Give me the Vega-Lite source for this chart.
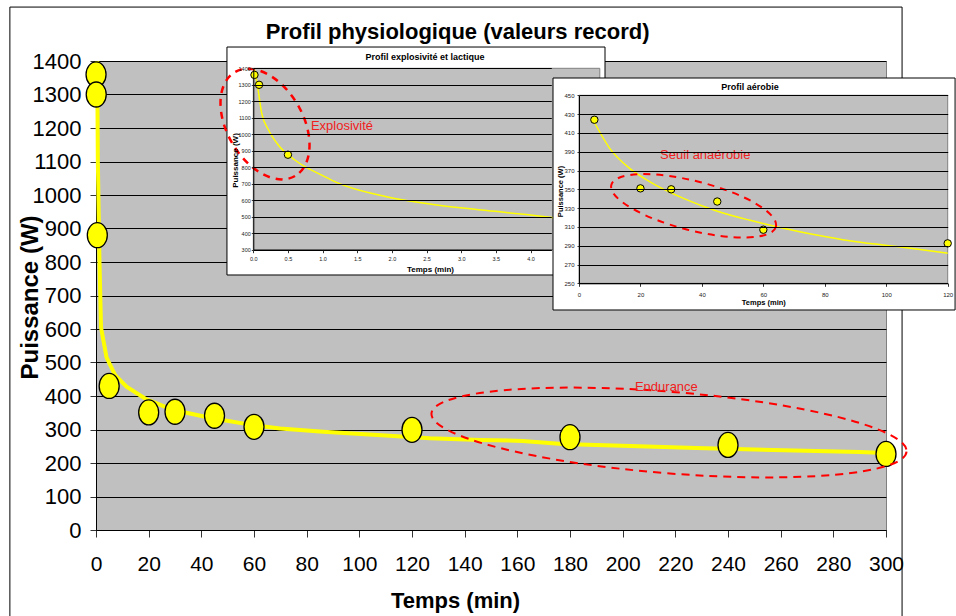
{
  "$schema": "https://vega.github.io/schema/vega-lite/v6.json",
  "width": 790,
  "height": 469,
  "autosize": {"type": "none"},
  "padding": {"left": 96, "top": 61, "right": 70, "bottom": 86},
  "background": "white",
  "config": {
    "view": {"fill": "#C0C0C0", "stroke": "#808080", "strokeWidth": 1},
    "axis": {"domainColor": "#000", "tickColor": "#333", "labelColor": "#000", "titleColor": "#000", "labelFlush": false, "labelOverlap": false, "gridColor": "#000", "gridOpacity": 1, "gridWidth": 1}
  },
  "layer": [
    {
      "data": {"values": [{}]},
      "mark": {"type": "rect", "fill": "white", "fillOpacity": 0, "stroke": "#000", "strokeWidth": 1},
      "encoding": {
        "x": {"datum": -32.7, "type": "quantitative", "scale": {"domain": [0, 300], "nice": false, "zero": false}, "axis": null},
        "x2": {"datum": 306.1},
        "y": {"datum": 1561, "type": "quantitative", "scale": {"domain": [0, 1400], "nice": false, "zero": false}, "axis": null},
        "y2": {"datum": -280}
      }
    },
    {
      "data": {"values": [{"label": "Profil physiologique (valeurs record)"}]},
      "mark": {"type": "text", "font": "Liberation Sans", "fontSize": 22, "fontWeight": "bold", "color": "#000", "align": "center", "baseline": "alphabetic"},
      "encoding": {
        "x": {"datum": 137.3, "type": "quantitative", "scale": {"domain": [0, 300], "nice": false, "zero": false}, "axis": null},
        "y": {"datum": 1467, "type": "quantitative", "scale": {"domain": [0, 1400], "nice": false, "zero": false}, "axis": null},
        "text": {"field": "label"}
      }
    },
    {
      "data": {"values": [
        {"t": 0.45, "p": 1400}, {"t": 0.7, "p": 1100}, {"t": 1.27, "p": 820}, {"t": 1.9, "p": 605}, {"t": 2.6, "p": 575}, {"t": 4.0, "p": 515}, {"t": 7.2, "p": 463}, {"t": 11.6, "p": 428}, {"t": 19.2, "p": 390}, {"t": 29.4, "p": 358}, {"t": 44.6, "p": 333}, {"t": 59.7, "p": 313}, {"t": 69.9, "p": 303}, {"t": 86.3, "p": 293}, {"t": 105.3, "p": 284}, {"t": 126.8, "p": 274}, {"t": 145.8, "p": 269}, {"t": 162, "p": 266}, {"t": 177, "p": 257}, {"t": 203, "p": 251}, {"t": 228, "p": 245}, {"t": 257, "p": 239}, {"t": 290, "p": 233}, {"t": 300, "p": 230}
      ]},
      "mark": {"type": "line", "color": "#FFFF00", "strokeWidth": 4},
      "encoding": {
        "x": {"field": "t", "type": "quantitative", "scale": {"domain": [0, 300], "nice": false, "zero": false},
          "axis": {"orient": "bottom", "title": "Temps (min)", "values": [0, 20, 40, 60, 80, 100, 120, 140, 160, 180, 200, 220, 240, 260, 280, 300], "format": "d", "grid": false, "tickSize": 7, "labelFont": "Liberation Sans Narrow, Liberation Sans", "labelFontSize": 21, "labelPadding": 16, "titleFont": "Liberation Sans Narrow, Liberation Sans", "titleFontSize": 22, "titleFontWeight": "bold", "titleX": 359, "titleY": 70, "titleBaseline": "middle", "zindex": 0}},
        "y": {"field": "p", "type": "quantitative", "scale": {"domain": [0, 1400], "nice": false, "zero": false},
          "axis": {"orient": "left", "title": "Puissance (W)", "values": [0, 100, 200, 300, 400, 500, 600, 700, 800, 900, 1000, 1100, 1200, 1300, 1400], "format": "d", "grid": true, "tickSize": 6, "labelFont": "Liberation Sans Narrow, Liberation Sans", "labelFontSize": 22, "labelPadding": 9, "titleFont": "Liberation Sans", "titleFontSize": 24, "titleFontWeight": "bold", "titleX": -66, "titleY": 236, "titleBaseline": "middle", "zindex": 0}}
      }
    },
    {
      "data": {"values": [
        {"t": 0.017, "p": 1360}, {"t": 0.083, "p": 1300}, {"t": 0.5, "p": 880}, {"t": 5, "p": 430}, {"t": 20, "p": 351}, {"t": 30, "p": 353}, {"t": 45, "p": 341}, {"t": 60, "p": 308}, {"t": 120, "p": 299}, {"t": 180, "p": 277}, {"t": 240, "p": 254}, {"t": 300, "p": 227}
      ]},
      "mark": {"type": "point", "shape": "M 0.8 0 C 0.8 0.5523 0.4418 1 0 1 C -0.4418 1 -0.8 0.5523 -0.8 0 C -0.8 -0.5523 -0.4418 -1 0 -1 C 0.4418 -1 0.8 -0.5523 0.8 0 Z", "size": 625, "filled": true, "fill": "#FFFF00", "stroke": "#000", "strokeWidth": 1.3, "opacity": 1},
      "encoding": {
        "x": {"field": "t", "type": "quantitative", "scale": {"domain": [0, 300], "nice": false, "zero": false}, "axis": null},
        "y": {"field": "p", "type": "quantitative", "scale": {"domain": [0, 1400], "nice": false, "zero": false}, "axis": null}
      }
    },
    {
      "data": {"values": [{}]},
      "mark": {"type": "point", "shape": "M 1 0 C 1 0.0944 0.5523 0.171 0 0.171 C -0.5523 0.171 -1 0.0944 -1 0 C -1 -0.0944 -0.5523 -0.171 0 -0.171 C 0.5523 -0.171 1 -0.0944 1 0 Z", "size": 227148, "angle": 4.6, "filled": false, "stroke": "#FF0000", "strokeWidth": 2, "strokeDash": [8, 6], "opacity": 1},
      "encoding": {
        "x": {"datum": 217.6, "type": "quantitative", "scale": {"domain": [0, 300], "nice": false, "zero": false}, "axis": null},
        "y": {"datum": 291, "type": "quantitative", "scale": {"domain": [0, 1400], "nice": false, "zero": false}, "axis": null}
      }
    },
    {
      "data": {"values": [{"label": "Endurance"}]},
      "mark": {"type": "text", "font": "Liberation Sans", "fontSize": 13, "color": "#F02020", "align": "center", "baseline": "middle"},
      "encoding": {
        "x": {"datum": 216.6, "type": "quantitative", "scale": {"domain": [0, 300], "nice": false, "zero": false}, "axis": null},
        "y": {"datum": 426, "type": "quantitative", "scale": {"domain": [0, 1400], "nice": false, "zero": false}, "axis": null},
        "text": {"field": "label"}
      }
    },
    {
      "data": {"values": [{}]},
      "mark": {"type": "rect", "fill": "white", "stroke": "#000", "strokeWidth": 1},
      "encoding": {
        "x": {"datum": -0.38, "type": "quantitative", "scale": {"domain": [0, 4.3], "range": [157.3, 455.3], "nice": false, "zero": false}, "axis": null},
        "x2": {"datum": 5.075},
        "y": {"datum": 1529, "type": "quantitative", "scale": {"domain": [300, 1400], "range": [188.7, 7.3], "nice": false, "zero": false}, "axis": null},
        "y2": {"datum": 146.6}
      }
    },
    {
      "data": {"values": [{}]},
      "mark": {"type": "rect", "fill": "#C0C0C0", "stroke": "#808080", "strokeWidth": 1},
      "encoding": {
        "x": {"datum": 0, "type": "quantitative", "scale": {"domain": [0, 4.3], "range": [157.3, 455.3], "nice": false, "zero": false}, "axis": null},
        "x2": {"datum": 5},
        "y": {"datum": 300, "type": "quantitative", "scale": {"domain": [300, 1400], "range": [188.7, 7.3], "nice": false, "zero": false}, "axis": null},
        "y2": {"datum": 1400}
      }
    },
    {
      "data": {"values": [
        {"t": 0.02, "p": 1390}, {"t": 0.07, "p": 1268}, {"t": 0.12, "p": 1130}, {"t": 0.22, "p": 1026}, {"t": 0.36, "p": 935}, {"t": 0.6, "p": 844}, {"t": 1.03, "p": 743}, {"t": 1.2, "p": 708}, {"t": 1.92, "p": 621}, {"t": 2.65, "p": 571}, {"t": 3.37, "p": 537}, {"t": 4.0, "p": 510}, {"t": 4.4, "p": 490}
      ]},
      "mark": {"type": "line", "color": "#FFFF00", "strokeWidth": 1.5, "interpolate": "monotone"},
      "encoding": {
        "x": {"field": "t", "type": "quantitative", "scale": {"domain": [0, 4.3], "range": [157.3, 455.3], "nice": false, "zero": false},
          "axis": {"orient": "bottom", "offset": -280.3, "title": "Temps (min)", "values": [0, 0.5, 1, 1.5, 2, 2.5, 3, 3.5, 4], "format": ".1f", "grid": false, "tickSize": 3, "labelFont": "Liberation Sans", "labelFontSize": 5.5, "labelColor": "#222", "labelPadding": 4, "titleFont": "Liberation Sans", "titleFontSize": 8, "titleFontWeight": "bold", "titleX": 334, "titleY": 19.6, "titleBaseline": "middle", "zindex": 1}},
        "y": {"field": "p", "type": "quantitative", "scale": {"domain": [300, 1400], "range": [188.7, 7.3], "nice": false, "zero": false},
          "axis": {"orient": "left", "offset": -157.3, "title": "Puissance (W)", "values": [300, 400, 500, 600, 700, 800, 900, 1000, 1100, 1200, 1300, 1400], "format": "d", "grid": true, "tickSize": 2, "labelFont": "Liberation Sans", "labelFontSize": 5.5, "labelColor": "#222", "labelPadding": 1, "titleFont": "Liberation Sans", "titleFontSize": 8, "titleFontWeight": "bold", "titleX": -18.3, "titleY": 99, "titleBaseline": "middle", "zindex": 1}}
      }
    },
    {
      "data": {"values": [{"t": 0.017, "p": 1360}, {"t": 0.083, "p": 1300}, {"t": 0.5, "p": 876}]},
      "mark": {"type": "point", "shape": "circle", "size": 55, "filled": true, "fill": "#FFFF00", "stroke": "#000", "strokeWidth": 1, "opacity": 1},
      "encoding": {
        "x": {"field": "t", "type": "quantitative", "scale": {"domain": [0, 4.3], "range": [157.3, 455.3], "nice": false, "zero": false}, "axis": null},
        "y": {"field": "p", "type": "quantitative", "scale": {"domain": [300, 1400], "range": [188.7, 7.3], "nice": false, "zero": false}, "axis": null},
        "order": {"value": 2}
      }
    },
    {
      "data": {"values": [{}]},
      "mark": {"type": "point", "shape": "M 1 0 C 1 0.3496 0.5523 0.633 0 0.633 C -0.5523 0.633 -1 0.3496 -1 0 C -1 -0.3496 -0.5523 -0.633 0 -0.633 C 0.5523 -0.633 1 -0.3496 1 0 Z", "size": 14400, "angle": 60, "filled": false, "stroke": "#FF0000", "strokeWidth": 2.5, "strokeDash": [7, 6], "opacity": 1},
      "encoding": {
        "x": {"datum": 0.169, "type": "quantitative", "scale": {"domain": [0, 4.3], "range": [157.3, 455.3], "nice": false, "zero": false}, "axis": null},
        "y": {"datum": 1062, "type": "quantitative", "scale": {"domain": [300, 1400], "range": [188.7, 7.3], "nice": false, "zero": false}, "axis": null},
        "order": {"value": 2}
      }
    },
    {
      "data": {"values": [{"label": "Explosivité"}]},
      "mark": {"type": "text", "font": "Liberation Sans", "fontSize": 13, "color": "#F02020", "align": "center", "baseline": "middle"},
      "encoding": {
        "x": {"datum": 1.28, "type": "quantitative", "scale": {"domain": [0, 4.3], "range": [157.3, 455.3], "nice": false, "zero": false}, "axis": null},
        "y": {"datum": 1050, "type": "quantitative", "scale": {"domain": [300, 1400], "range": [188.7, 7.3], "nice": false, "zero": false}, "axis": null},
        "text": {"field": "label"},
        "order": {"value": 2}
      }
    },
    {
      "data": {"values": [{"label": "Profil explosivité et lactique"}]},
      "mark": {"type": "text", "font": "Liberation Sans", "fontSize": 9, "fontWeight": "bold", "color": "#000", "align": "center", "baseline": "middle"},
      "encoding": {
        "x": {"datum": 2.478, "type": "quantitative", "scale": {"domain": [0, 4.3], "range": [157.3, 455.3], "nice": false, "zero": false}, "axis": null},
        "y": {"datum": 1468.6, "type": "quantitative", "scale": {"domain": [300, 1400], "range": [188.7, 7.3], "nice": false, "zero": false}, "axis": null},
        "text": {"field": "label"},
        "order": {"value": 2}
      }
    },
    {
      "data": {"values": [{}]},
      "mark": {"type": "rect", "fill": "white", "stroke": "#000", "strokeWidth": 1},
      "encoding": {
        "x": {"datum": -8.46, "type": "quantitative", "scale": {"domain": [0, 120], "range": [483, 851.7], "nice": false, "zero": false}, "axis": null},
        "x2": {"datum": 122.4},
        "y": {"datum": 468.4, "type": "quantitative", "scale": {"domain": [250, 450], "range": [222.3, 34.3], "nice": false, "zero": false}, "axis": null},
        "y2": {"datum": 221.6}
      }
    },
    {
      "data": {"values": [{}]},
      "mark": {"type": "rect", "fill": "#C0C0C0", "stroke": "#808080", "strokeWidth": 1},
      "encoding": {
        "x": {"datum": 0, "type": "quantitative", "scale": {"domain": [0, 120], "range": [483, 851.7], "nice": false, "zero": false}, "axis": null},
        "x2": {"datum": 120},
        "y": {"datum": 250, "type": "quantitative", "scale": {"domain": [250, 450], "range": [222.3, 34.3], "nice": false, "zero": false}, "axis": null},
        "y2": {"datum": 450}
      }
    },
    {
      "data": {"values": [
        {"t": 5.2, "p": 420}, {"t": 10, "p": 393.6}, {"t": 16.6, "p": 372}, {"t": 23.1, "p": 358}, {"t": 34, "p": 340.4}, {"t": 44.8, "p": 327}, {"t": 55.7, "p": 317}, {"t": 66.5, "p": 308.5}, {"t": 77.3, "p": 301.4}, {"t": 88.1, "p": 295.3}, {"t": 99, "p": 290.7}, {"t": 109.8, "p": 286.5}, {"t": 120, "p": 282}
      ]},
      "mark": {"type": "line", "color": "#FFFF00", "strokeWidth": 1.5, "interpolate": "monotone"},
      "encoding": {
        "x": {"field": "t", "type": "quantitative", "scale": {"domain": [0, 120], "range": [483, 851.7], "nice": false, "zero": false},
          "axis": {"orient": "bottom", "offset": -246.7, "title": "Temps (min)", "values": [0, 20, 40, 60, 80, 100, 120], "format": "d", "grid": false, "tickSize": 3, "labelFont": "Liberation Sans", "labelFontSize": 6, "labelColor": "#222", "labelPadding": 5, "titleFont": "Liberation Sans", "titleFontSize": 7.5, "titleFontWeight": "bold", "titleX": 667.3, "titleY": 19.4, "titleBaseline": "middle", "zindex": 1}},
        "y": {"field": "p", "type": "quantitative", "scale": {"domain": [250, 450], "range": [222.3, 34.3], "nice": false, "zero": false},
          "axis": {"orient": "left", "offset": -483, "title": "Puissance (W)", "values": [250, 270, 290, 310, 330, 350, 370, 390, 410, 430, 450], "format": "d", "grid": true, "tickSize": 2, "labelFont": "Liberation Sans", "labelFontSize": 6, "labelColor": "#222", "labelPadding": 3, "titleFont": "Liberation Sans", "titleFontSize": 7.5, "titleFontWeight": "bold", "titleX": -19, "titleY": 130, "titleBaseline": "middle", "zindex": 1}}
      }
    },
    {
      "data": {"values": [{"t": 5, "p": 424}, {"t": 20, "p": 351}, {"t": 30, "p": 350}, {"t": 45, "p": 337}, {"t": 60, "p": 307}, {"t": 120, "p": 292.5}]},
      "mark": {"type": "point", "shape": "circle", "size": 55, "filled": true, "fill": "#FFFF00", "stroke": "#000", "strokeWidth": 1, "opacity": 1},
      "encoding": {
        "x": {"field": "t", "type": "quantitative", "scale": {"domain": [0, 120], "range": [483, 851.7], "nice": false, "zero": false}, "axis": null},
        "y": {"field": "p", "type": "quantitative", "scale": {"domain": [250, 450], "range": [222.3, 34.3], "nice": false, "zero": false}, "axis": null},
        "order": {"value": 2}
      }
    },
    {
      "data": {"values": [{}]},
      "mark": {"type": "point", "shape": "M 1 0 C 1 0.1602 0.5523 0.29 0 0.29 C -0.5523 0.29 -1 0.1602 -1 0 C -1 -0.1602 -0.5523 -0.29 0 -0.29 C 0.5523 -0.29 1 -0.1602 1 0 Z", "size": 28832, "angle": 14.25, "filled": false, "stroke": "#FF0000", "strokeWidth": 2, "strokeDash": [7, 6], "opacity": 1},
      "encoding": {
        "x": {"datum": 37.3, "type": "quantitative", "scale": {"domain": [0, 120], "range": [483, 851.7], "nice": false, "zero": false}, "axis": null},
        "y": {"datum": 332.4, "type": "quantitative", "scale": {"domain": [250, 450], "range": [222.3, 34.3], "nice": false, "zero": false}, "axis": null},
        "order": {"value": 2}
      }
    },
    {
      "data": {"values": [{"label": "Seuil anaérobie"}]},
      "mark": {"type": "text", "font": "Liberation Sans", "fontSize": 13, "color": "#F02020", "align": "center", "baseline": "middle"},
      "encoding": {
        "x": {"datum": 41.1, "type": "quantitative", "scale": {"domain": [0, 120], "range": [483, 851.7], "nice": false, "zero": false}, "axis": null},
        "y": {"datum": 386.5, "type": "quantitative", "scale": {"domain": [250, 450], "range": [222.3, 34.3], "nice": false, "zero": false}, "axis": null},
        "text": {"field": "label"},
        "order": {"value": 2}
      }
    },
    {
      "data": {"values": [{"label": "Profil aérobie"}]},
      "mark": {"type": "text", "font": "Liberation Sans", "fontSize": 9, "fontWeight": "bold", "color": "#000", "align": "center", "baseline": "middle"},
      "encoding": {
        "x": {"datum": 55.65, "type": "quantitative", "scale": {"domain": [0, 120], "range": [483, 851.7], "nice": false, "zero": false}, "axis": null},
        "y": {"datum": 458.8, "type": "quantitative", "scale": {"domain": [250, 450], "range": [222.3, 34.3], "nice": false, "zero": false}, "axis": null},
        "text": {"field": "label"},
        "order": {"value": 2}
      }
    }
  ],
  "resolve": {"scale": {"x": "independent", "y": "independent"}, "axis": {"x": "independent", "y": "independent"}}
}
